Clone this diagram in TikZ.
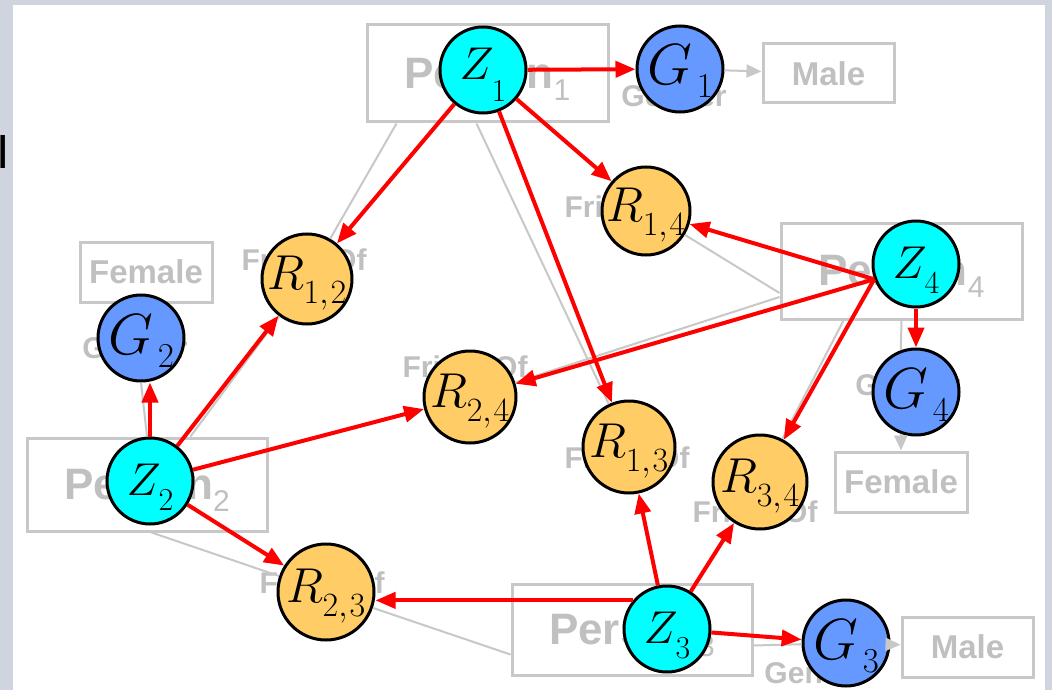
\documentclass[tikz,border=0pt]{standalone}
\usepackage{fix-cm}
\usepackage{fontspec}
\newfontfamily\arial{Liberation Sans}
\usetikzlibrary{arrows.meta}
\definecolor{bgframe}{RGB}{208,212,222}
\definecolor{lgray}{RGB}{200,200,200}
\definecolor{tgray}{RGB}{192,192,192}
\definecolor{zcol}{RGB}{0,255,255}
\definecolor{gcol}{RGB}{102,153,255}
\definecolor{rcol}{RGB}{255,204,102}
\newcommand{\zl}[2][15pt]{\makebox[0pt]{{\fontsize{46}{46}\selectfont$Z$}\kern-2pt\raisebox{-#1}{\fontsize{32}{32}\selectfont$#2$}}}
\newcommand{\gl}[1]{\makebox[0pt]{{\fontsize{58}{58}\selectfont$G$}\kern5pt\raisebox{-13pt}{\fontsize{35}{35}\selectfont$#1$}}}
\newcommand{\rl}[2]{\makebox[0pt]{{\fontsize{49}{49}\selectfont$R$}\kern-1pt\raisebox{-14pt}{\fontsize{34}{34}\selectfont$#1{,}\kern2pt#2$}}}
\newcommand{\pers}[1]{Person\raisebox{-12pt}[0pt][0pt]{\fontseries{m}\fontsize{30}{30}\selectfont #1}}
\begin{document}
\begin{tikzpicture}[x=1pt,y=-1pt,
  var/.style={circle, draw=black, line width=3pt, inner sep=0pt},
  zvar/.style={var, fill=zcol, minimum size=86pt, text height=40pt, text depth=12pt},
  gvar/.style={var, fill=gcol, minimum size=86pt, text height=44pt, text depth=12pt},
  rvar/.style={var, fill=rcol, minimum size=92pt, text height=36pt, text depth=16pt},
  person/.style={draw=lgray, line width=3pt, inner sep=0pt, text=tgray, font=\arial\bfseries\fontsize{44}{44}\selectfont},
  valbox/.style={draw=lgray, line width=3pt, inner sep=0pt, text=tgray, font=\arial\bfseries\fontsize{33}{33}\selectfont},
  rel/.style={text=tgray, font=\arial\bfseries\fontsize{30}{30}\selectfont, inner sep=0pt, anchor=base},
  glink/.style={draw=lgray, line width=2pt},
  garrow/.style={glink, -{Triangle[length=15pt,width=13pt]}},
  infl/.style={draw=red, line width=4pt, -{Triangle[length=20pt,width=16pt]}}
]
\useasboundingbox (0,0) rectangle (1052,690);
\fill[bgframe] (0,0) rectangle (1052,690);
\fill[white] (13,5) rectangle (1045,690);
\node[anchor=base west, inner sep=0pt, font=\arial\fontsize{48}{48}\selectfont] (cut) at (-4,168) {I};

% person boxes
\node[person, minimum width=241pt, minimum height=97pt] (P1) at (487.5,73.5) {\pers{1}};
\node[person, minimum width=240pt, minimum height=93pt] (P2) at (147,484.5) {\pers{2}};
\node[person, minimum width=240pt, minimum height=91pt] (P3) at (632,629.5) {\pers{3}};
\node[person, minimum width=241pt, minimum height=96pt] (P4) at (901.5,271) {\pers{4}};

% value boxes
\node[valbox, minimum width=131pt, minimum height=59pt] (M1) at (828.5,73.5) {Male};
\node[valbox, minimum width=132pt, minimum height=60pt] (F1) at (146,272) {Female};
\node[valbox, minimum width=132pt, minimum height=60pt] (F2) at (901,482) {Female};
\node[valbox, minimum width=131pt, minimum height=60pt] (M2) at (967.5,647) {Male};

% relation labels
\node[rel] (l12) at (304,270) {FriendOf};
\node[rel] (l14) at (627,217) {FriendOf};
\node[rel] (l24) at (465,377) {FriendOf};
\node[rel] (l13) at (627,468) {FriendOf};
\node[rel] (l34) at (755,522) {FriendOf};
\node[rel] (l23) at (322,593) {FriendOf};
\node[rel] (lg1) at (674,107) {Gender};
\node[rel] (lg2) at (135,358) {Gender};
\node[rel] (lg4) at (908,395) {Gender};
\node[rel] (lg3) at (817,683) {Gender};

% variables
\node[zvar, text height=36pt, text depth=16pt] (Z1) at (483,70) {\zl[22pt]{1}};
\node[zvar] (Z2) at (150,481) {\zl{2}};
\node[zvar] (Z3) at (667,629) {\zl{3}};
\node[zvar] (Z4) at (916,264) {\zl{4}};
\node[gvar] (G1) at (680,69) {\gl{1}};
\node[gvar] (G2) at (141,338) {\gl{2}};
\node[gvar] (G3) at (846,643) {\gl{3}};
\node[gvar] (G4) at (916,392) {\gl{4}};
\node[rvar, minimum size=88pt] (R14) at (646,211) {\rl{1}{4}};
\node[rvar, minimum size=90pt] (R12) at (307,279) {\rl{1}{2}};
\node[rvar] (R24) at (470,397) {\rl{2}{4}};
\node[rvar] (R13) at (629,447) {\rl{1}{3}};
\node[rvar, minimum size=94pt] (R34) at (760,482) {\rl{3}{4}};
\node[rvar, minimum size=96pt] (R23) at (326,592) {\rl{2}{3}};

% gray links
\draw[glink] ([xshift=31pt]P1.south west) -- (R12);
\draw[glink] ([xshift=111pt]P1.south west) -- (R13);
\draw[glink] ([yshift=-22pt]P4.west) -- (R14);
\draw[glink] ([yshift=-26pt]P4.west) -- (R24);
\draw[glink] (P4.south) -- (G4.110);
\draw[glink] ([xshift=64pt]P4.south west) -- (R34);
\draw[garrow] (G4.250) -- (F2.north);
\draw[glink] (P2.north) -- (G2.south);
\draw[glink] ([xshift=165pt]P2.north west) -- (R12);
\draw[glink] ([xshift=126pt]P2.south west) -- (R23);
\draw[glink] ([yshift=-25pt]P3.west) -- (R23);
\draw[glink] ([yshift=-16pt]P3.east) -- (G3);
\draw[garrow] (G3) -- (M2);
\draw[garrow] (G1) -- (M1);

% influences
\draw[infl] (Z1) -- (G1);
\draw[infl] (Z1) -- (R12);
\draw[infl] (Z1) -- (R13);
\draw[infl] (Z1) -- (R14);
\draw[infl] (Z4.200) -- (R14);
\draw[infl] (Z4.200) -- (R24);
\draw[infl] (Z4.200) -- (R34);
\draw[infl] (Z4) -- (G4);
\draw[infl] (Z2.north) -- (Z2.north |- G2.south);
\draw[infl] (Z2) -- (R12);
\draw[infl] (Z2) -- (R24);
\draw[infl] (Z2) -- (R23);
\draw[infl] (Z3.140) -- (Z3.140 -| R23.east);
\draw[infl] (Z3) -- (R13);
\draw[infl] (Z3) -- (R34);
\draw[infl] (Z3) -- (G3);
\end{tikzpicture}
\end{document}
